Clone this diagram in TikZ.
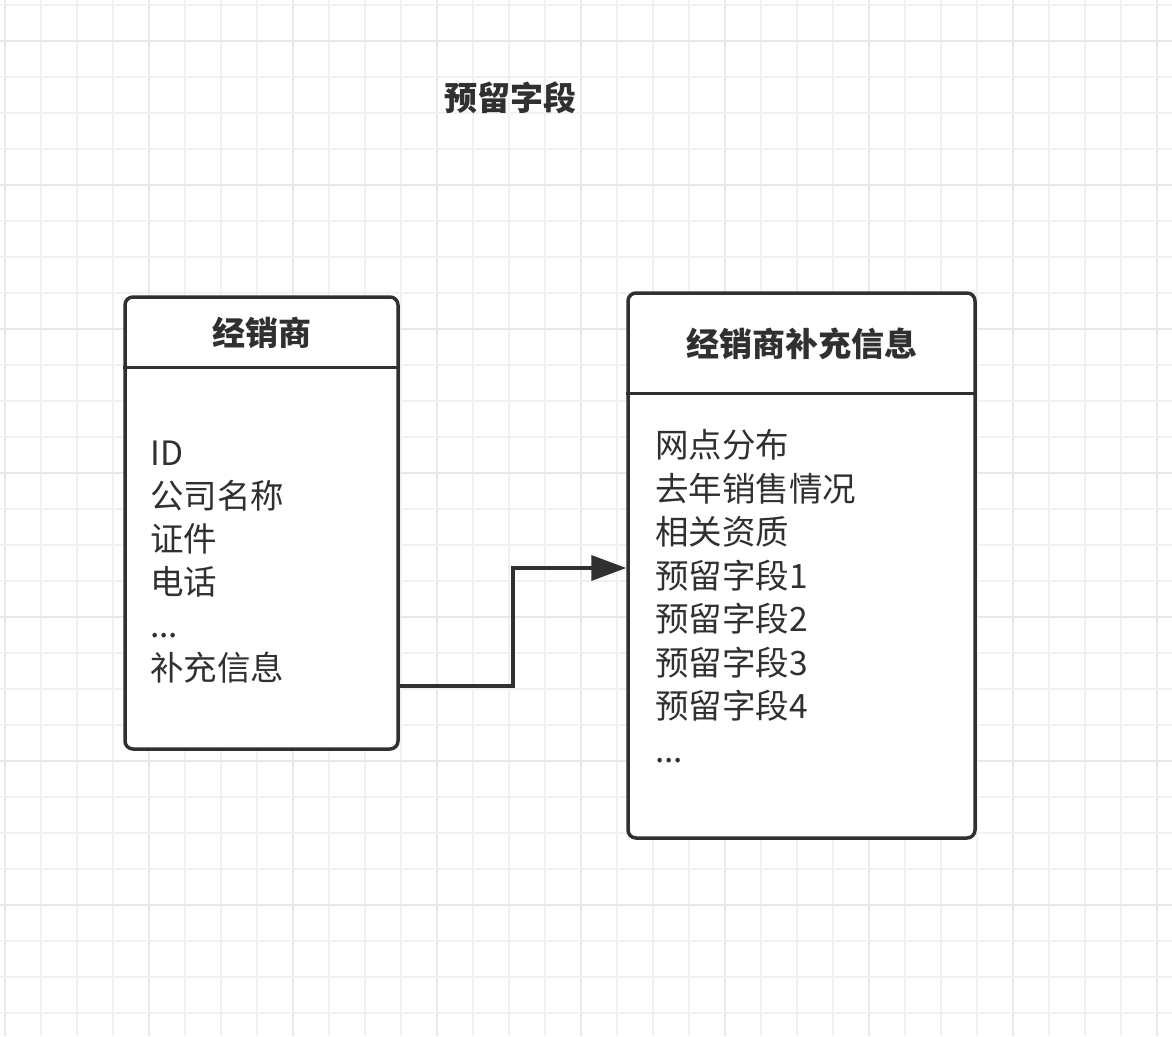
\documentclass[tikz,border=0pt]{standalone}
\usepackage{fontspec}
\setmainfont{Noto Sans CJK SC}
\newfontfamily\cjk{Noto Sans CJK SC}
\usetikzlibrary{arrows.meta,calc}
\definecolor{ink}{RGB}{48,48,50}
\definecolor{gridminor}{RGB}{241,241,244}
\definecolor{gridmajor}{RGB}{231,231,236}
\newcommand\mydots{...}
\begin{document}
\begin{tikzpicture}[x=1pt,y=-1pt,
  box/.style={draw=ink, line width=3.5pt, rounded corners=8pt, fill=white, inner sep=0pt},
  headtext/.style={font=\cjk\bfseries\fontsize{33}{40}\selectfont, text=ink, inner sep=0pt},
  body/.style={font=\cjk\fontsize{33.5}{40}\selectfont, text=ink, inner sep=0pt, anchor=base west},
  conn/.style={draw=ink, line width=3.5pt, -{Triangle[length=35pt,width=25pt]}},
  divider/.style={draw=ink, line width=3.5pt}]
\useasboundingbox (0,0) rectangle (1172,1036);
\fill[white] (0,0) rectangle (1172,1036);
% grid
\foreach \k in {0,...,32}{
  \pgfmathsetmacro{\xx}{5+36*\k}
  \pgfmathtruncatemacro{\m}{mod(\k,4)}
  \ifnum\m=0
    \draw[gridmajor, line width=2pt] (\xx,0) -- (\xx,1036);
  \else
    \draw[gridminor, line width=1.8pt] (\xx,0) -- (\xx,1036);
  \fi
}
\foreach \k in {0,...,28}{
  \pgfmathsetmacro{\yy}{5+36*\k}
  \pgfmathtruncatemacro{\m}{mod(\k+3,4)}
  \ifnum\m=0
    \draw[gridmajor, line width=2pt] (0,\yy) -- (1172,\yy);
  \else
    \draw[gridminor, line width=1.8pt] (0,\yy) -- (1172,\yy);
  \fi
}
% title
\node[headtext] (title) at (510,98) {预留字段};
% left box
\node[box, minimum width=273pt, minimum height=452pt] (dealer) at (261.5,523) {};
\draw[divider] ($(dealer.north west)+(0,72)$) coordinate (d1w) -- ($(dealer.north east)+(0,72)$) coordinate (d1e);
\node[headtext] (dealerhead) at (261.5,333) {经销商};
\foreach \t [count=\i] in {ID,公司名称,证件,电话,\mydots,补充信息}{
  \node[body] (dl\i) at (150,{465.5+43*(\i-1)}) {\t};
}
% right box
\node[box, minimum width=347pt, minimum height=545pt] (extra) at (801.5,565.5) {};
\draw[divider] ($(extra.north west)+(0,102)$) coordinate (d2w) -- ($(extra.north east)+(0,102)$) coordinate (d2e);
\node[headtext] (extrahead) at (801.5,344) {经销商补充信息};
\foreach \t [count=\i] in {网点分布,去年销售情况,相关资质,预留字段1,预留字段2,预留字段3,预留字段4,\mydots}{
  \node[body] (el\i) at (655,{457.5+43.5*(\i-1)}) {\t};
}
% connector
\coordinate (cstart) at (dealer.east |- 0,686);
\coordinate (cend) at (extra.west |- 0,568);
\draw[conn] (cstart) -- (513,686) -- (513,568) -- (cend);
\end{tikzpicture}
\end{document}
